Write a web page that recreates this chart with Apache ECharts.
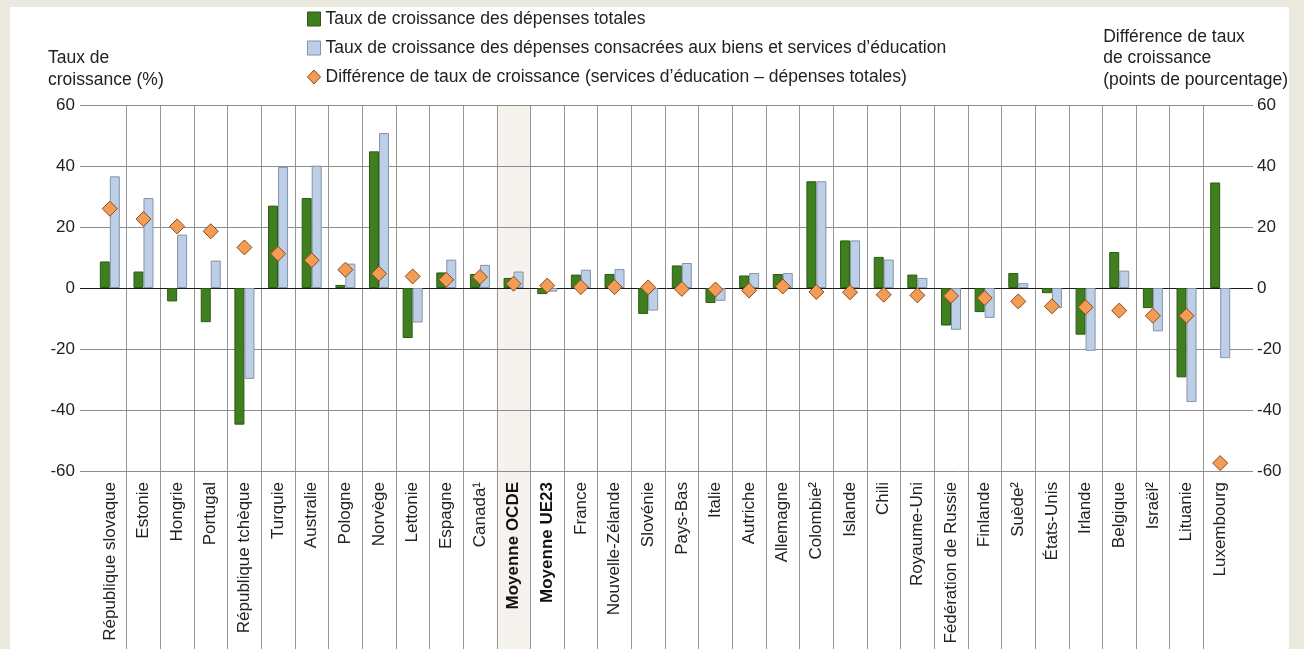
<!DOCTYPE html>
<html><head><meta charset="utf-8">
<script src="https://cdn.jsdelivr.net/npm/echarts@6/dist/echarts.min.js"></script>
<style>
html,body{margin:0;padding:0;background:#ece9df;width:1304px;height:649px;overflow:hidden;}
#c{position:absolute;left:10px;top:7px;width:1279px;height:642px;background:#fff;}
</style></head><body><div id="c"></div>
<script>
const categories = ['République slovaque','Estonie','Hongrie','Portugal','République tchèque','Turquie','Australie','Pologne','Norvège','Lettonie','Espagne','Canada¹','Moyenne OCDE','Moyenne UE23','France','Nouvelle-Zélande','Slovénie','Pays-Bas','Italie','Autriche','Allemagne','Colombie²','Islande','Chili','Royaume-Uni','Fédération de Russie','Finlande','Suède²','États-Unis','Irlande','Belgique','Israël²','Lituanie','Luxembourg'];
const totalGrowth = [8.7,5.4,-4.4,-11.2,-44.8,27.0,29.5,1.0,44.8,-16.4,5.1,4.6,3.3,-2.0,4.4,4.6,-8.5,7.4,-4.9,4.1,4.6,35.0,15.6,10.2,4.4,-12.3,-7.9,4.9,-1.7,-15.3,11.8,-6.6,-29.3,34.6];
const eduGrowth = [36.6,29.5,17.5,9.0,-29.8,39.7,40.1,8.0,50.8,-11.3,9.3,7.6,5.4,-1.2,6.0,6.2,-7.4,8.2,-4.2,4.9,4.9,35.0,15.6,9.3,3.3,-13.7,-9.8,1.6,-6.6,-20.6,5.7,-14.2,-37.4,-23.0];
const diffGrowth = [26.0,22.6,20.2,18.6,13.3,11.2,9.1,6.0,4.7,3.8,2.7,3.6,1.4,0.8,0.3,0.3,0.2,-0.3,-0.5,-0.8,0.5,-1.3,-1.4,-2.2,-2.4,-2.6,-3.3,-4.4,-6.0,-6.3,-7.4,-9.1,-9.1,-57.4];
const yTicks = {min:-60, max:60, interval:20};
const highlighted = ['Moyenne OCDE','Moyenne UE23'];
const shaded = 'Moyenne OCDE';
const legendNames = ['Taux de croissance des dépenses totales','Taux de croissance des dépenses consacrées aux biens et services d\u2019éducation','Différence de taux de croissance (services d\u2019éducation \u2013 dépenses totales)'];

const FONT = "'Liberation Sans',Arial,sans-serif";
const chart = echarts.init(document.getElementById('c'), null, {renderer:'canvas'});
const gridTop = 98, gridBottom = 178;
const lineColors = [];
for (let v = yTicks.min; v <= yTicks.max; v += yTicks.interval) lineColors.push(v === 0 ? '#1a1a1a' : '#8c8c8c');

const option = {
  animation:false,
  textStyle:{fontFamily:FONT},
  grid:[
    {left:70, right:36, top:gridTop, bottom:gridBottom},
    {left:83, right:52, top:gridTop, bottom:gridBottom},
    {left:83, right:52, top:gridTop, bottom:0}
  ],
  legend:{
    orient:'vertical', left:292, top:-2, itemWidth:13, itemHeight:14, itemGap:11,
    textStyle:{fontFamily:FONT, fontSize:17.5, lineHeight:18, color:'#222'},
    data:[
      {name:legendNames[0], icon:'rect', itemStyle:{color:'#3f7f1f', borderColor:'#2b5a12', borderWidth:1}},
      {name:legendNames[1], icon:'rect', itemStyle:{color:'#bccfe6', borderColor:'#8494a8', borderWidth:1}},
      {name:legendNames[2], icon:'diamond', itemStyle:{color:'#f39c55', borderColor:'#8a4a1a', borderWidth:1, opacity:1}}
    ]
  },
  xAxis:[
    {type:'category', gridIndex:0, data:categories, show:false},
    {type:'category', gridIndex:1, data:categories, axisLine:{show:false}, axisTick:{show:false}, splitLine:{show:false},
      axisLabel:{rotate:90, interval:0, margin:11, fontSize:17, color:'#222', fontFamily:FONT,
        formatter:(v)=> highlighted.includes(v) ? '{b|'+v+'}' : v,
        rich:{b:{fontWeight:'bold', fontSize:17, fontFamily:FONT, color:'#111'}}}},
    {type:'category', gridIndex:2, data:categories, axisLine:{show:false}, axisTick:{show:false}, axisLabel:{show:false},
      splitLine:{show:true, interval:0, showMinLine:false, showMaxLine:false, lineStyle:{color:'#959595', width:1}}}
  ],
  yAxis:[
    {type:'value', gridIndex:0, z:1, min:yTicks.min, max:yTicks.max, interval:yTicks.interval, position:'left',
      axisLine:{show:false}, axisTick:{show:false},
      axisLabel:{margin:5, fontSize:17, color:'#222', fontFamily:FONT},
      splitLine:{show:true, lineStyle:{color:lineColors, width:1}}},
    {type:'value', gridIndex:0, min:yTicks.min, max:yTicks.max, interval:yTicks.interval, position:'right',
      axisLine:{show:false}, axisTick:{show:false},
      axisLabel:{margin:4, fontSize:17, color:'#222', fontFamily:FONT}, splitLine:{show:false}},
    {type:'value', gridIndex:1, min:yTicks.min, max:yTicks.max, interval:yTicks.interval, show:false},
    {type:'value', gridIndex:2, min:0, max:1, show:false}
  ],
  graphic:[
    {type:'text', left:38, top:40, z:10, style:{text:'Taux de\ncroissance (%)', font:'17.5px '+FONT, fill:'#222', lineHeight:22}},
    {type:'text', right:1, top:19, z:10, style:{text:'Différence de taux\nde croissance\n(points de pourcentage)', font:'17.5px '+FONT, fill:'#222', lineHeight:21.5, align:'right'}}
  ],
  series:[
    {type:'bar', xAxisIndex:2, yAxisIndex:3, z:-1, silent:true, barWidth:'100%',
      data:categories.map(c => c === shaded ? 1 : null), itemStyle:{color:'#f6f3ee'}},
    {name:legendNames[0], type:'bar', xAxisIndex:1, yAxisIndex:2, data:totalGrowth, barWidth:10, barGap:'0%', z:2,
      itemStyle:{color:'#3f7f1f', borderColor:'#2b5a12', borderWidth:1}},
    {name:legendNames[1], type:'bar', xAxisIndex:1, yAxisIndex:2, data:eduGrowth, barWidth:10, barGap:'0%', z:2,
      itemStyle:{color:'#bccfe6', borderColor:'#8494a8', borderWidth:1}},
    {name:legendNames[2], type:'scatter', xAxisIndex:1, yAxisIndex:2, data:diffGrowth, symbol:'diamond', symbolSize:[15,15], z:5,
      itemStyle:{color:'#f39c55', borderColor:'#8a4a1a', borderWidth:1, opacity:1}}
  ]
};
chart.setOption(option);
</script></body></html>
